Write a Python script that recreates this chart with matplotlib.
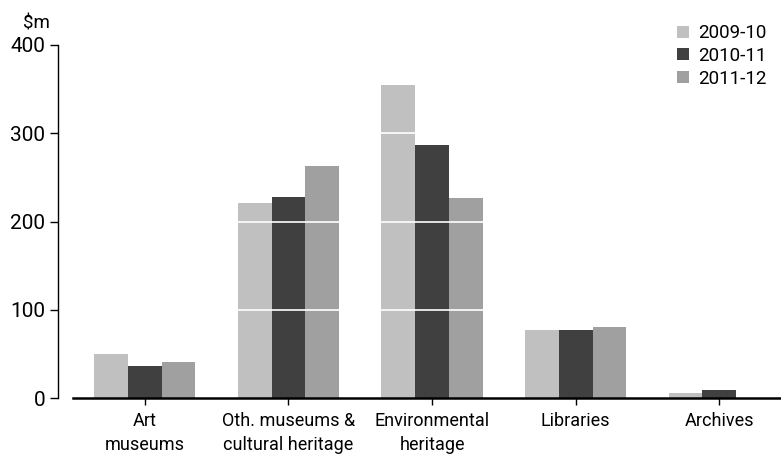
import numpy as np
import matplotlib
matplotlib.use("Agg")
import matplotlib.pyplot as plt

plt.rcParams['font.family'] = ['Roboto', 'DejaVu Sans']

categories = ["Art\nmuseums", "Oth. museums &\ncultural heritage", "Environmental\nheritage",
              "Libraries", "Archives"]
years = ["2009-10", "2010-11", "2011-12"]
v0910 = [50, 221, 355, 77, 6]
v1011 = [37, 228, 287, 77, 9]
v1112 = [41, 263, 227, 81, 0]
colors = ["#c0c0c0", "#404040", "#a0a0a0"]

fig = plt.figure(figsize=(7.81, 4.55), dpi=100)
ax = fig.add_axes([73/781, 56.7/455, 1 - 73/781, 353.3/455])

x = np.arange(len(categories))
w = 0.235
for i, (vals, lab) in enumerate(zip([v0910, v1011, v1112], years)):
    ax.bar(x + (i - 1) * w, vals, w, color=colors[i], label=lab, zorder=2)

# white gridlines over the bars
for yv in [100, 200, 300]:
    ax.axhline(yv, color="white", linewidth=1.2, zorder=3)

ax.set_ylim(0, 400)
ax.set_xlim(-0.5, 4.43)
ax.set_yticks([0, 100, 200, 300, 400])
ax.set_xticks(x)
ax.set_xticklabels(categories, fontsize=13, linespacing=1.4)
ax.tick_params(axis='y', labelsize=15, length=6, width=1, pad=3)
ax.tick_params(axis='x', length=5, width=1, pad=5)

for s in ['top', 'right']:
    ax.spines[s].set_visible(False)
ax.spines['left'].set_position(('outward', 11))
ax.spines['left'].set_linewidth(1)
ax.spines['bottom'].set_linewidth(1.8)
ax.spines['bottom'].set_zorder(4)

fig.text(36/781, 1 - 23/455, "$m", fontsize=13.5, ha='center', va='center')

ax.legend(loc='upper right', bbox_to_anchor=(0.99, 1.08), frameon=False, fontsize=13.5,
          handlelength=0.6, handleheight=0.6, handletextpad=0.5, labelspacing=0.25,
          borderaxespad=0)

fig.savefig("out.png", dpi=100)
